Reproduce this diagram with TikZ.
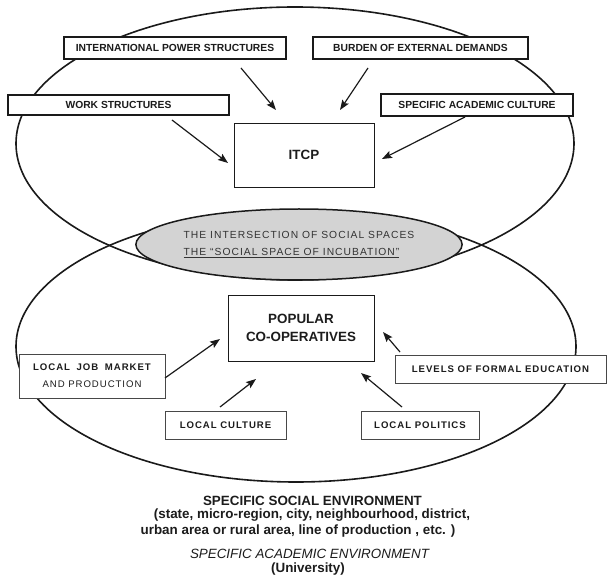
\documentclass[tikz,border=0pt]{standalone}
\usepackage{fontspec}
\setmainfont{Liberation Sans}
\newfontfamily\spacedfont[LetterSpace=10]{Liberation Sans}
\usetikzlibrary{arrows.meta,shapes.geometric}
\definecolor{ink}{HTML}{1A1A1A}
\definecolor{txt}{HTML}{1C1C1C}
\definecolor{grayfill}{HTML}{D3D3D3}
\tikzset{
  envline/.style={draw=ink, line width=1.6pt},
  topbox/.style={draw=ink, line width=1.5pt, fill=white, inner sep=0pt, text=txt,
    font=\bfseries\fontsize{10.3}{12}\selectfont},
  mainbox/.style={draw=ink, line width=0.9pt, fill=white, inner sep=0pt, text=txt,
    font=\bfseries\fontsize{13.4}{18}\selectfont, align=center},
  lowbox/.style={draw=ink!80, line width=0.7pt, fill=white, inner sep=0pt, text=txt,
    font=\spacedfont\bfseries\fontsize{9.6}{12}\selectfont, align=center},
  arr/.style={-{Stealth[length=10pt,width=7.5pt,inset=1.8pt]}, line width=1.2pt, draw=ink},
  bottomtext/.style={text=txt, inner sep=0pt, font=\bfseries\fontsize{13.4}{16}\selectfont}
}
\begin{document}
\begin{tikzpicture}[x=1pt,y=-1pt]
\useasboundingbox (0,0) rectangle (608,585);
% environments
\draw[envline] (295,143.5) ellipse [x radius=279pt, y radius=136.5pt];
\draw[envline] (296,346.5) ellipse [x radius=280pt, y radius=135.5pt];
% intersection
\node[ellipse, draw=ink, line width=1.5pt, fill=grayfill, minimum width=310pt, minimum height=71pt,
      inner sep=0pt, text=txt!90, align=left,
      font=\spacedfont\fontsize{10.3}{16.5}\selectfont] (inter) at (299,244.5)
  {THE INTERSECTION OF SOCIAL SPACES\\\underline{THE “SOCIAL SPACE OF INCUBATION”}};
% top boxes
\node[topbox, minimum width=222pt, minimum height=22pt] (ips) at (175,48) {INTERNATIONAL POWER STRUCTURES};
\node[topbox, minimum width=215pt, minimum height=22pt] (burden) at (420.5,48) {BURDEN OF EXTERNAL DEMANDS};
\node[topbox, minimum width=221pt, minimum height=20pt] (work) at (118.5,105) {WORK STRUCTURES};
\node[topbox, minimum width=192pt, minimum height=22pt] (sac) at (477,105) {SPECIFIC ACADEMIC CULTURE};
\node[mainbox, minimum width=140pt, minimum height=64pt] (itcp) at (304,155) {ITCP};
% lower boxes
\node[mainbox, minimum width=146pt, minimum height=66pt] (pop) at (301,328) {POPULAR\\CO-OPERATIVES};
\node[lowbox, minimum width=146pt, minimum height=44pt] (ljm) at (92,376)
  {LOCAL\hspace{3pt} JOB\hspace{3pt} MARKET\\[5pt]{\mdseries AND PRODUCTION}};
\node[lowbox, minimum width=211pt, minimum height=28pt] (levels) at (500.5,369) {LEVELS OF FORMAL EDUCATION};
\node[lowbox, minimum width=121pt, minimum height=28pt] (lc) at (225.5,425) {LOCAL CULTURE};
\node[lowbox, minimum width=118pt, minimum height=28pt] (lp) at (420,425) {LOCAL POLITICS};
% arrow end points
\coordinate (ipsS) at (241,68);   \coordinate (ipsE) at (276,110);
\coordinate (burS) at (368,68);   \coordinate (burE) at (340,110);
\coordinate (wrkS) at (172,120);  \coordinate (wrkE) at (228,163);
\coordinate (sacS) at (465,117);  \coordinate (sacE) at (382,159);
\coordinate (ljmS) at (165,378);  \coordinate (ljmE) at (220,339);
\coordinate (lcS) at (220,407);   \coordinate (lcE) at (256,379);
\coordinate (lpS) at (402,407);   \coordinate (lpE) at (361,373);
\coordinate (levS) at (400,352);  \coordinate (levE) at (383,332);
\draw[arr] (ipsS) -- (ipsE);
\draw[arr] (burS) -- (burE);
\draw[arr] (wrkS) -- (wrkE);
\draw[arr] (sacS) -- (sacE);
\draw[arr] (ljmS) -- (ljmE);
\draw[arr] (lcS) -- (lcE);
\draw[arr] (lpS) -- (lpE);
\draw[arr] (levS) -- (levE);
% bottom text
\node[bottomtext] (env) at (312.5,501) {SPECIFIC SOCIAL ENVIRONMENT};
\node[bottomtext] (envA) at (312,515) {(state, micro-region, city, neighbourhood, district,};
\node[bottomtext] (envB) at (298,531) {urban area or rural area, line of production , etc. )};
\node[bottomtext, font=\itshape\fontsize{13.4}{16}\selectfont] (acad) at (309.5,554) {SPECIFIC ACADEMIC ENVIRONMENT};
\node[bottomtext] (univ) at (308,569) {(University)};
\end{tikzpicture}
\end{document}
